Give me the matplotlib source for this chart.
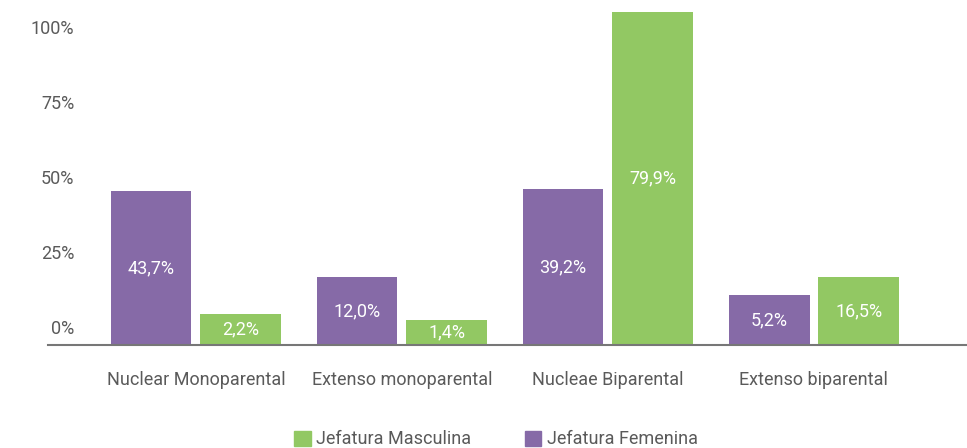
import matplotlib
matplotlib.use('Agg')
import matplotlib.pyplot as plt
import numpy as np
from matplotlib.patches import Patch

plt.rcParams['font.family'] = ['Roboto', 'DejaVu Sans']

# data
categories = ['Nuclear Monoparental', 'Extenso monoparental', 'Nucleae Biparental', 'Extenso biparental']
femenina_labels = ['43,7%', '12,0%', '39,2%', '5,2%']
masculina_labels = ['2,2%', '1,4%', '79,9%', '16,5%']
# bar tops as drawn in the reference, read against its y axis (%)
femenina_tops = [45.3, 16.7, 46.0, 10.7]
masculina_tops = [4.3, 2.3, 105.0, 16.7]
yticks = [0, 25, 50, 75, 100]

PURPLE = '#866aa7'
GREEN = '#92c863'
GREY = '#5a5a5a'
BASE = -6  # baseline of the bars sits below the 0% label

fig = plt.figure(figsize=(9.67, 4.48), dpi=100)
ax = fig.add_axes([48 / 967, 1 - 345 / 448, 1 - 48 / 967, 345 / 448])

x = np.arange(len(categories))
w = 0.393
off = 0.218

fem = ax.bar(x - off, np.array(femenina_tops) - BASE, w, bottom=BASE, color=PURPLE)
mas = ax.bar(x + off, np.array(masculina_tops) - BASE, w, bottom=BASE, color=GREEN)

for bars, labels in [(fem, femenina_labels), (mas, masculina_labels)]:
    for b, lab in zip(bars, labels):
        cy = b.get_y() + b.get_height() / 2
        ax.text(b.get_x() + b.get_width() / 2, cy, lab, ha='center', va='center',
                color='white', fontsize=13)

ax.set_xlim(-0.718, 3.743)
ax.set_ylim(BASE, 109)
ax.set_yticks(yticks)
ax.set_yticklabels([f'{t}%' for t in yticks], color=GREY, fontsize=13)
ax.tick_params(axis='y', length=0, pad=-19)
for lab in ax.get_yticklabels():
    lab.set_horizontalalignment('right')
ax.set_xticks(x)
ax.set_xticklabels(categories, color=GREY, fontsize=13)
ax.tick_params(axis='x', length=0, pad=19)

for s in ['top', 'right', 'left']:
    ax.spines[s].set_visible(False)
ax.spines['bottom'].set_color('#777777')
ax.spines['bottom'].set_linewidth(1.5)

handles = [Patch(color=GREEN, label='Jefatura Masculina'),
           Patch(color=PURPLE, label='Jefatura Femenina')]
leg = fig.legend(handles=handles, loc='lower center', bbox_to_anchor=(0.513, -0.005),
                 ncol=2, frameon=False, fontsize=13, handlelength=0.9, handleheight=0.9,
                 handletextpad=0.3, columnspacing=3.0, borderaxespad=0, borderpad=0.1)
for t in leg.get_texts():
    t.set_color(GREY)

fig.savefig('out.png', dpi=100)
